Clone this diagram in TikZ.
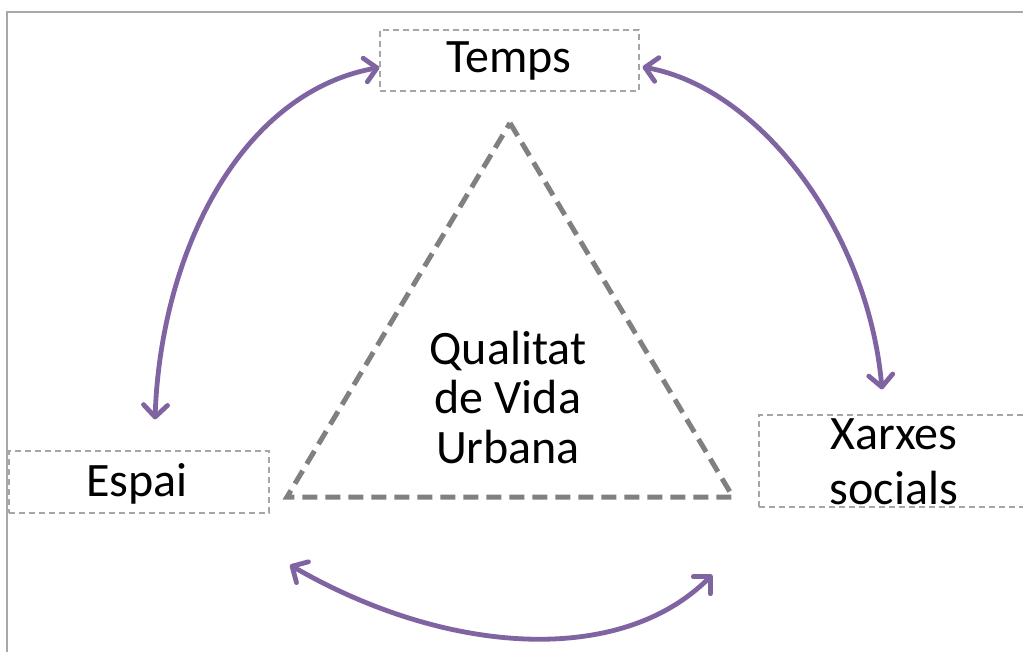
\documentclass[tikz,border=0pt]{standalone}
\usepackage{fontspec}
\setmainfont{Carlito}
\usetikzlibrary{arrows.meta}
\definecolor{purp}{HTML}{8064A2}
\definecolor{trigray}{HTML}{808080}
\definecolor{boxgray}{HTML}{A6A6A6}
\definecolor{framegray}{HTML}{A8A8A8}
\tikzset{
  dbox/.style={draw=boxgray, line width=1.2pt, dash pattern=on 6pt off 4pt, inner sep=0pt},
  lbl/.style={font=\fontsize{48}{55}\selectfont, inner sep=0pt, text=black},
  tri/.style={draw=trigray, line width=5pt, dash pattern=on 15pt off 8pt},
  link/.style={draw=purp, line width=4.8pt,
    {Straight Barb[length=12pt,width=24pt,round]}-{Straight Barb[length=12pt,width=24pt,round]}},
}
\begin{document}
\begin{tikzpicture}[x=1pt,y=-1pt]
\useasboundingbox (0,0) rectangle (1023,652);
\clip (0,0) rectangle (1023,652);
\fill[white] (0,0) rectangle (1023,652);
% outer frame
\draw[framegray, line width=2pt] (7,700) -- (7,12) -- (1100,12);
% boxes
\node[dbox, minimum width=259pt, minimum height=61pt] (temps) at (509.5,60.5) {};
\node[dbox, minimum width=260pt, minimum height=62pt] (espai) at (139,482) {};
\node[dbox, minimum width=271pt, minimum height=92pt] (xarxes) at (894.5,461) {};
\node[lbl, anchor=base] (tempst) at (509,73) {Temps};
\node[lbl, anchor=base] (espait) at (137,496) {Espai};
\node[lbl, align=center, anchor=center] (xarxest) at (894,462) {Xarxes\\socials};
% triangle
\coordinate (apex) at (510,123);
\coordinate (bl) at (287,497);
\coordinate (br) at (733,497);
\draw[tri] (apex) -- (br) -- (bl) -- cycle;
\node[lbl, align=center, font=\fontsize{48}{49.5}\selectfont] (qual) at (508,397.5) {Qualitat\\de Vida\\Urbana};
% arcs
\coordinate (b1) at (290,565);
\coordinate (b2) at (712,575);
\draw[link] ([xshift=16pt,yshift=31pt]espai.north) .. controls (161,250) and (242,92) .. ([yshift=-7pt]temps.west);
\draw[link] ([xshift=3pt,yshift=-6.5pt]temps.east) .. controls (760,88) and (868,231) .. ([xshift=-12.5pt,yshift=25pt]xarxes.north);
\draw[link] (b1) .. controls (446,655) and (620,667) .. (b2);
\end{tikzpicture}
\end{document}
